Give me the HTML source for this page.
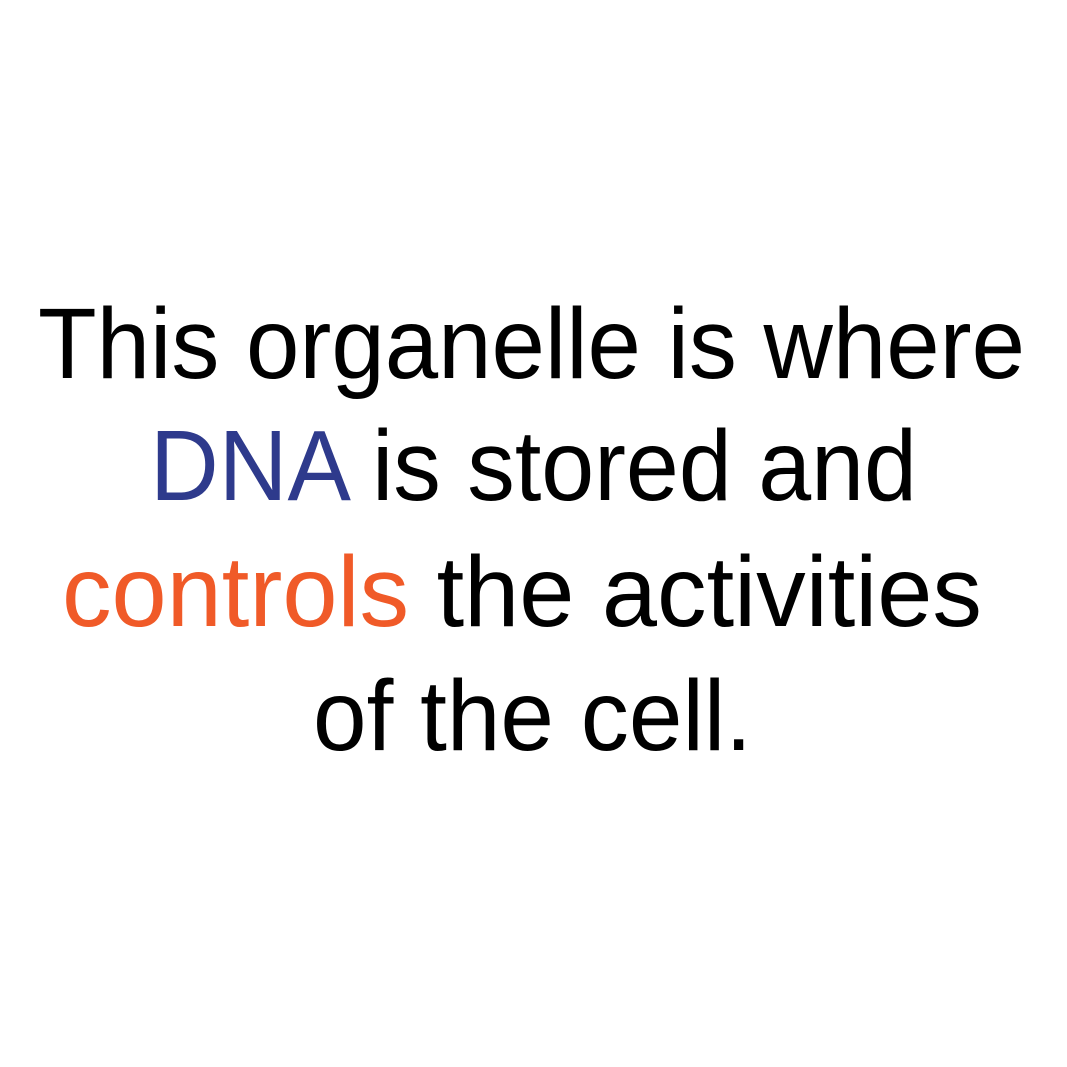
<!DOCTYPE html>
<html>
<head>
<meta charset="utf-8">
<style>
  html,body{margin:0;padding:0;background:#fff;}
  svg{display:block;}
  text{font-family:"Liberation Sans","DejaVu Sans",sans-serif;font-size:100px;fill:#000;}
</style>
</head>
<body>
<svg width="1067" height="1067" viewBox="0 0 1067 1067" xmlns="http://www.w3.org/2000/svg">
  <rect x="0" y="0" width="1067" height="1067" fill="#ffffff"/>
  <text x="38" y="378" textLength="987" lengthAdjust="spacingAndGlyphs">This organelle is where</text>
  <text x="150" y="500" textLength="767" lengthAdjust="spacingAndGlyphs"><tspan fill="#2e3a8c">DNA</tspan> is stored and</text>
  <text x="62" y="626" textLength="920" lengthAdjust="spacingAndGlyphs"><tspan fill="#f05a28">controls</tspan> the activities</text>
  <text x="313" y="750" textLength="439" lengthAdjust="spacingAndGlyphs">of the cell.</text>
</svg>
</body>
</html>
